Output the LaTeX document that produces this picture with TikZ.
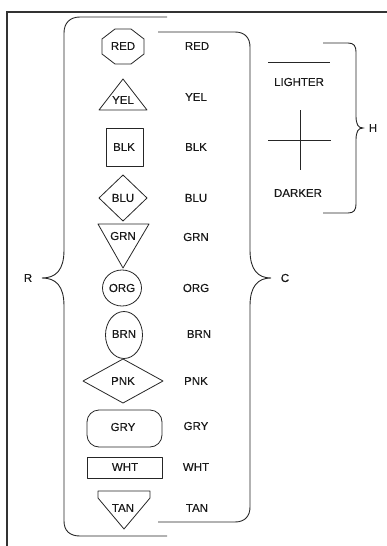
\documentclass[tikz,border=0pt]{standalone}
\usepackage{fontspec}
\setmainfont{Liberation Sans}
\newfontfamily\lblfont{Liberation Sans}[FakeBold=0.3]
\begin{document}
\begin{tikzpicture}[x=1pt,y=-1pt,
  shp/.style={draw=black!85,line width=0.8pt,line join=round},
  brc/.style={draw=black!85,line width=0.9pt},
  lbl/.style={font=\lblfont\fontsize{11.5}{13}\selectfont,inner sep=0pt,text=black!90},
  frm/.style={draw=black!80,line width=1.3pt}]
\useasboundingbox (0,0) rectangle (387,546);
% frame
\draw[frm] (7,546) -- (7,12) -- (387,12);
% left brace R
\draw[brc] (167,17) -- (80,17) .. controls (70,17) and (64,23) .. (64,33) -- (64,250)
  .. controls (64,270) and (56,278) .. (42,278)
  .. controls (56,278) and (64,286) .. (64,306) -- (64,521)
  .. controls (64,531) and (70,536) .. (80,536) -- (167,536);
% right brace C
\draw[brc] (158,32) -- (235,32) .. controls (245,32) and (250,38) .. (250,47) -- (250,250)
  .. controls (250,270) and (258,278) .. (271,278)
  .. controls (258,278) and (250,286) .. (250,306) -- (250,507)
  .. controls (250,516) and (245,522) .. (235,522) -- (158,522);
% H brace
\draw[brc] (323,43) -- (348,43) .. controls (354,43) and (356,46) .. (356,52) -- (356,116)
  .. controls (356,124) and (358,128) .. (363,128)
  .. controls (358,128) and (356,132) .. (356,140) -- (356,204)
  .. controls (356,210) and (354,213) .. (348,213) -- (323,213);
\node[lbl] (R) at (28,278) {R};
\node[lbl] (C) at (285,278) {C};
\node[lbl] (H) at (373,128) {H};
% lighter / darker
\draw[shp] (268,62) -- (330,62);
\node[lbl] (lighter) at (299,82) {LIGHTER};
\draw[shp] (300,110) -- (300,170);
\draw[shp] (268,140) -- (331,140);
\node[lbl] (darker) at (298,193) {DARKER};
% shapes
\draw[shp] (115,29) -- (131,29) -- (144,39) -- (144,54) -- (131,64) -- (115,64) -- (102,54) -- (102,39) -- cycle;
\node[lbl] (sred) at (123,46) {RED};
\draw[shp] (123,79) -- (147,110) -- (99,110) -- cycle;
\node[lbl] (syel) at (123,100) {YEL};
\draw[shp] (106,128) rectangle (143,166);
\node[lbl] (sblk) at (124,147) {BLK};
\draw[shp] (123,175) -- (147,198) -- (123,221) -- (99,198) -- cycle;
\node[lbl] (sblu) at (123,198) {BLU};
\draw[shp] (98,224) -- (149,224) -- (123,268) -- cycle;
\node[lbl] (sgrn) at (123,236) {GRN};
\draw[shp] (122,288) ellipse [x radius=19.5, y radius=18];
\node[lbl] (sorg) at (122,288) {ORG};
\draw[shp] (124,335) ellipse [x radius=18.5, y radius=23.5];
\node[lbl] (sbrn) at (124,334) {BRN};
\draw[shp] (123,359) -- (163,381) -- (123,403) -- (83,381) -- cycle;
\node[lbl] (spnk) at (123,381) {PNK};
\draw[shp,rounded corners=12pt] (87,410) rectangle (162,447);
\node[lbl] (sgry) at (123,427) {GRY};
\draw[shp] (87,457) rectangle (162,478);
\node[lbl] (swht) at (125,467) {WHT};
\draw[shp] (98,491) -- (150,491) -- (150,498) -- (124,529) -- (98,498) -- cycle;
\node[lbl] (stan) at (123,508) {TAN};
% labels
\node[lbl] (lred) at (197,46) {RED};
\node[lbl] (lyel) at (196,97) {YEL};
\node[lbl] (lblk) at (196,147) {BLK};
\node[lbl] (lblu) at (196,198) {BLU};
\node[lbl] (lgrn) at (196,237) {GRN};
\node[lbl] (lorg) at (196,288) {ORG};
\node[lbl] (lbrn) at (199,334) {BRN};
\node[lbl] (lpnk) at (196,381) {PNK};
\node[lbl] (lgry) at (196,426) {GRY};
\node[lbl] (lwht) at (196,467) {WHT};
\node[lbl] (ltan) at (197,508) {TAN};
\end{tikzpicture}
\end{document}
